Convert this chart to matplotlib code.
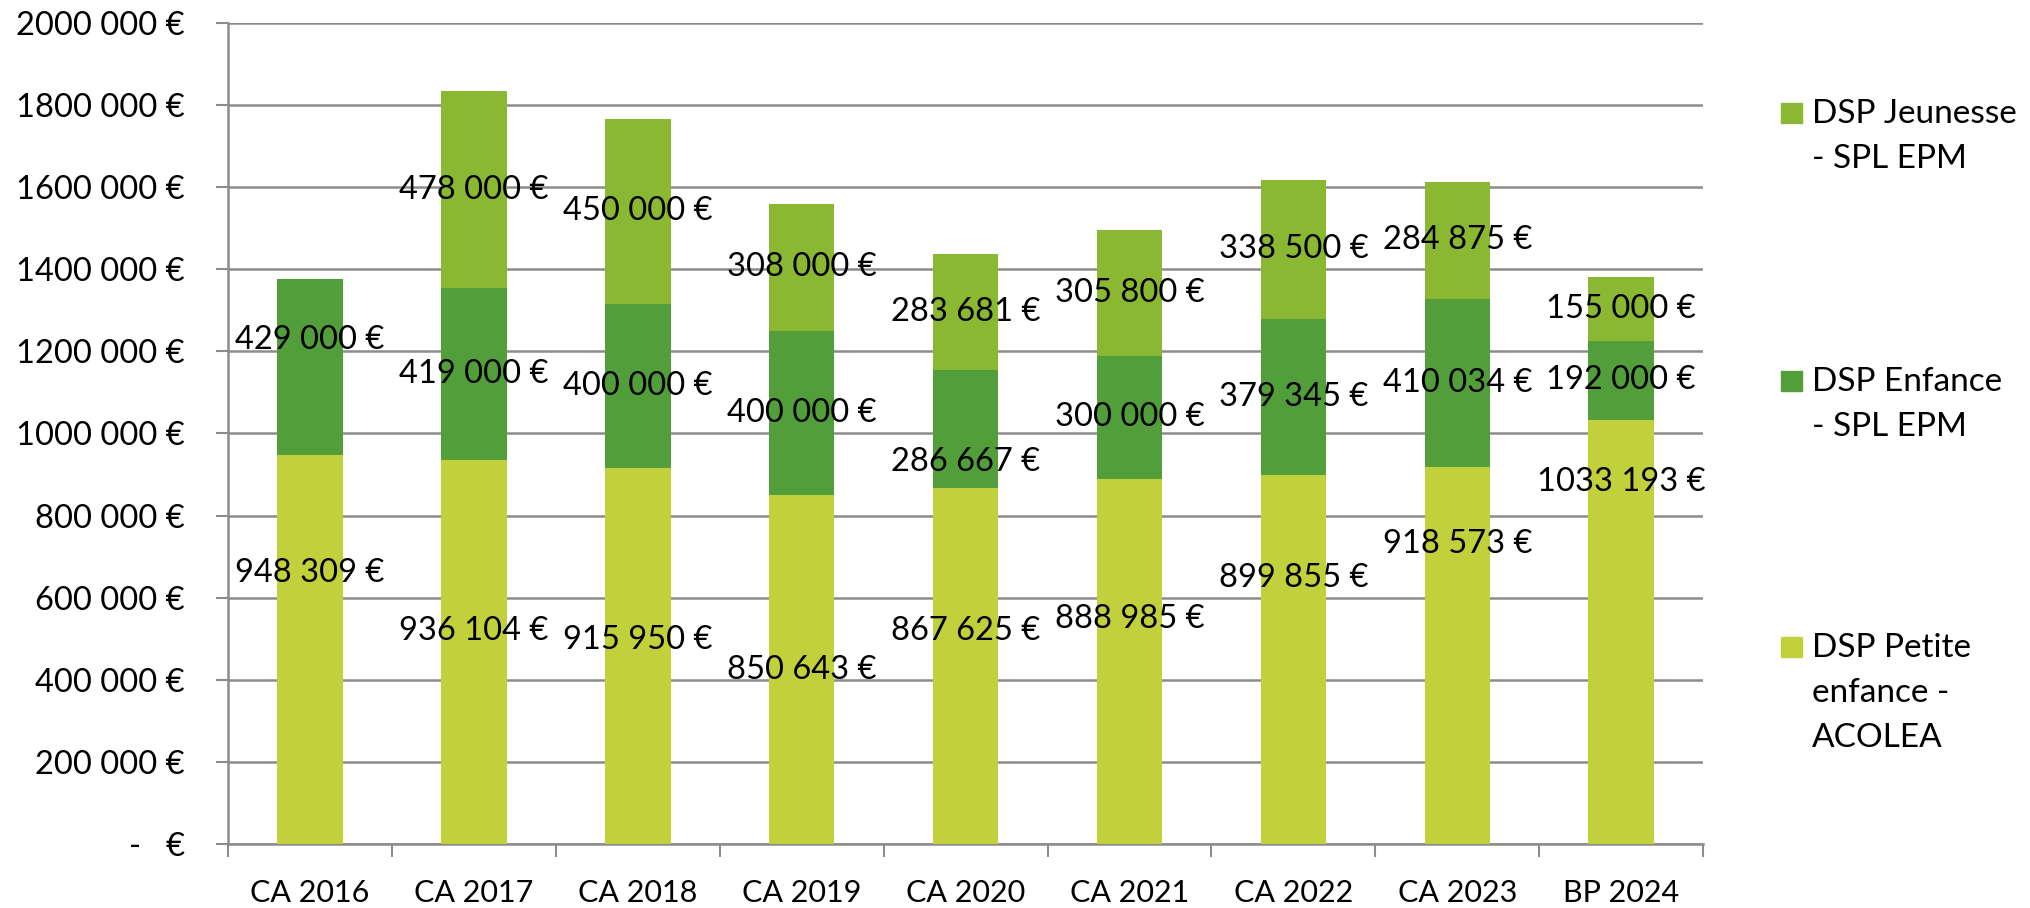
import numpy as np
import matplotlib
matplotlib.use("Agg")
import matplotlib.pyplot as plt
from matplotlib.patches import Rectangle

# categories and series values (euros)
categories = ["CA 2016", "CA 2017", "CA 2018", "CA 2019", "CA 2020",
              "CA 2021", "CA 2022", "CA 2023", "BP 2024"]
petite_enfance = [948309, 936104, 915950, 850643, 867625, 888985, 899855, 918573, 1033193]
enfance = [429000, 419000, 400000, 400000, 286667, 300000, 379345, 410034, 192000]
jeunesse = [0, 478000, 450000, 308000, 283681, 305800, 338500, 284875, 155000]

series_names = ["DSP Jeunesse\n- SPL EPM", "DSP Enfance\n- SPL EPM", "DSP Petite\nenfance -\nACOLEA"]
yticks = [0, 200000, 400000, 600000, 800000, 1000000, 1200000, 1400000, 1600000, 1800000, 2000000]
ytick_labels = ["-   €", "200 000 €", "400 000 €", "600 000 €", "800 000 €", "1000 000 €",
                "1200 000 €", "1400 000 €", "1600 000 €", "1800 000 €", "2000 000 €"]

# label positions moved by hand in the original (data units, bottom series + a few)
petite_label_y = [660000, 518000, 497000, 424000, 518000, 547000, 648000, 730000, 881000]
enfance_label_shift = [65000, 0, 0, 0, -80000, 0, 0, 0, 0]

c_jeun = "#8bb833"
c_enf = "#529e3a"
c_pet = "#c2d03b"
grid_c = "#8c8c8c"

plt.rcParams["font.family"] = ["Lato", "DejaVu Sans"]

fig = plt.figure(figsize=(20.3, 9.08), dpi=100)
ax = fig.add_axes([0.1123, 0.0705, 0.839 - 0.1123, 0.9747 - 0.0705])

x = np.arange(len(categories))
pet = np.array(petite_enfance)
enf = np.array(enfance)
jeu = np.array(jeunesse)
w = 0.40

ax.bar(x, pet, w, color=c_pet, zorder=3)
ax.bar(x, enf, w, bottom=pet, color=c_enf, zorder=3)
ax.bar(x, jeu, w, bottom=pet + enf, color=c_jeun, zorder=3)

def fmt(v):
    s = str(v)
    return s[:-3] + " " + s[-3:] + " €"

fs = 23.5
for i in range(len(categories)):
    ax.text(x[i], petite_label_y[i], fmt(pet[i]), ha="center", va="center", fontsize=fs, zorder=4)
    ax.text(x[i], pet[i] + enf[i] / 2 + enfance_label_shift[i], fmt(enf[i]),
            ha="center", va="center", fontsize=fs, zorder=4)
    if jeu[i] > 0:
        ax.text(x[i], pet[i] + enf[i] + jeu[i] / 2, fmt(jeu[i]),
                ha="center", va="center", fontsize=fs, zorder=4)

ax.set_xlim(-0.5, len(categories) - 0.5)
ax.set_ylim(0, 2000000)
ax.set_yticks(yticks)
ax.set_yticklabels(ytick_labels, fontsize=fs)
ax.set_xticks(x)
ax.set_xticklabels(categories, fontsize=22)
ax.set_xticks(np.arange(len(categories) + 1) - 0.5, minor=True)
ax.tick_params(axis="x", which="major", length=0, pad=25)
ax.tick_params(axis="x", which="minor", length=9, width=1.5, color=grid_c, direction="out")
ax.tick_params(axis="y", length=9, width=1.5, color=grid_c, direction="out", pad=22)

ax.grid(axis="y", color=grid_c, linewidth=1.8, zorder=0)
for s in ["top", "right"]:
    ax.spines[s].set_visible(False)
ax.spines["left"].set_color(grid_c)
ax.spines["left"].set_linewidth(1.8)
ax.spines["bottom"].set_color(grid_c)
ax.spines["bottom"].set_linewidth(1.8)

# legend drawn by hand: square on the first line, one text per line
leg_colors = [c_jeun, c_enf, c_pet]
leg_base_px = [123, 391, 657]
line_step = 45
for name, col, base in zip(series_names, leg_colors, leg_base_px):
    fig.add_artist(Rectangle((1781 / 2030, 1 - base / 908), 21 / 2030, 20 / 908,
                             transform=fig.transFigure, color=col))
    for k, line in enumerate(name.split("\n")):
        fig.text(1812 / 2030, 1 - (base + k * line_step) / 908, line,
                 fontsize=24, va="baseline", ha="left")

fig.savefig("out.png", dpi=100)
